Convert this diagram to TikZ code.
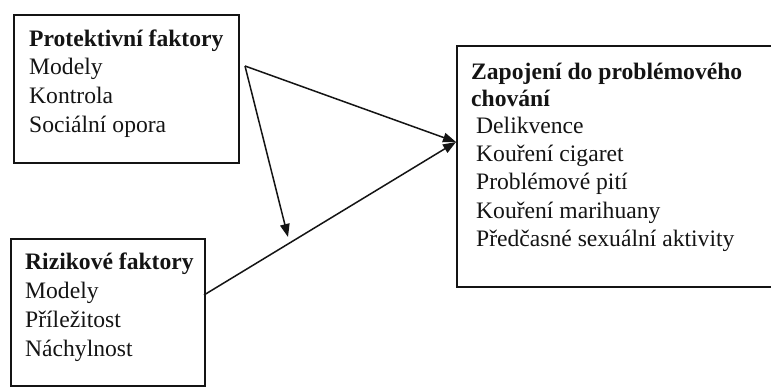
\documentclass[tikz,border=0pt]{standalone}
\usepackage{fontspec}
\setmainfont{Liberation Serif}
\usetikzlibrary{arrows.meta}
\definecolor{ink}{HTML}{141414}
\tikzset{
  boxframe/.style={draw=ink, line width=1.6pt, rectangle, inner sep=0pt, anchor=north west},
  txt/.style={anchor=base west, inner sep=0pt, text=ink, font=\fontsize{23.6}{28}\selectfont},
  ttl/.style={txt, font=\fontsize{23.6}{28}\selectfont\bfseries},
  conn/.style={draw=ink, line width=1.5pt, -{Triangle[length=13pt,width=9.5pt]}},
}
\begin{document}
\begin{tikzpicture}[x=1pt,y=-1pt]
\clip (0,0) rectangle (771,387);
\fill[white] (0,0) rectangle (771,387);
% boxes
\node[boxframe, minimum width=225pt, minimum height=148pt] (prot) at (13,14) {};
\node[boxframe, minimum width=194pt, minimum height=147pt] (risk) at (10,238) {};
\node[boxframe, minimum width=330pt, minimum height=241pt] (outc) at (456,45) {};
% texts box 1
\node[ttl] (p0) at (29,47) {Protektivní faktory};
\node[txt] (p1) at (29,75) {Modely};
\node[txt] (p2) at (29,104) {Kontrola};
\node[txt] (p3) at (29,133) {Sociální opora};
% texts box 2
\node[ttl] (r0) at (25,270) {Rizikové faktory};
\node[txt] (r1) at (25,299) {Modely};
\node[txt] (r2) at (25,327) {Příležitost};
\node[txt] (r3) at (25,356) {Náchylnost};
% texts box 3
\node[ttl] (o0) at (471,80) {Zapojení do problémového};
\node[ttl] (o1) at (471,107) {chování};
\node[txt] (o2) at (476,134) {Delikvence};
\node[txt] (o3) at (476,162) {Kouření cigaret};
\node[txt] (o4) at (476,190) {Problémové pití};
\node[txt] (o5) at (476,219) {Kouření marihuany};
\node[txt] (o6) at (476,247) {Předčasné sexuální aktivity};
% connectors
\coordinate (apex) at (245,66);
\coordinate (join) at (456,142);
\coordinate (rstart) at (204,295);
\coordinate (mtip) at (288,237);
\draw[conn] (apex) -- (join);
\draw[conn] (rstart) -- (join);
\draw[conn] (apex) -- (mtip);
\end{tikzpicture}
\end{document}
